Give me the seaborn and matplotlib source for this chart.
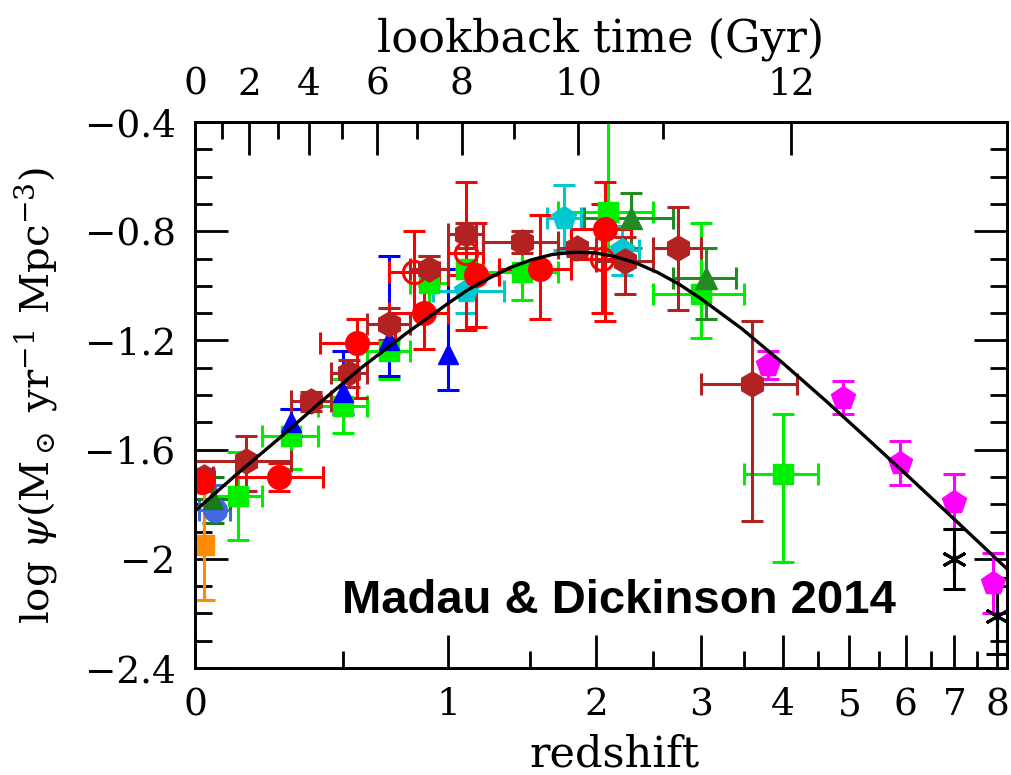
import numpy as np
import matplotlib
matplotlib.use('Agg')
import matplotlib.pyplot as plt
from matplotlib.ticker import FixedLocator
import seaborn as sns

# fitted curve
curve_z = [0, 0.12, 0.26, 0.41, 0.58, 0.78, 1.0, 1.11, 1.24, 1.37, 1.51, 1.66, 1.82,
           1.99, 2.16, 2.35, 2.55, 2.76, 2.98, 3.47, 4.01, 4.62, 5.31, 6.08, 6.94, 7.91, 8.33]
curve_lpsi = [-1.825, -1.691, -1.558, -1.426, -1.298, -1.176, -1.064, -1.015, -0.971, -0.933,
              -0.905, -0.885, -0.877, -0.879, -0.893, -0.917, -0.951, -0.993, -1.043, -1.157,
              -1.285, -1.42, -1.561, -1.703, -1.846, -1.991, -2.049]

# UV points
cuc_z = [0.125, 0.3, 0.5, 0.7, 0.9, 1.1, 1.45, 2.1, 3.0, 4.0]
cuc_zlo = [0.05, 0.2, 0.4, 0.6, 0.8, 1.0, 1.2, 1.7, 2.5, 3.5]
cuc_zhi = [0.2, 0.4, 0.6, 0.8, 1.0, 1.2, 1.7, 2.5, 3.5, 4.5]
cuc_y = [-1.77, -1.55, -1.44, -1.24, -0.99, -0.94, -0.95, -0.73, -1.03, -1.69]
cuc_up = [0.16, 0.10, 0.10, 0.08, 0.10, 0.08, 0.10, 0.40, 0.26, 0.22]
cuc_dn = [0.16, 0.12, 0.10, 0.10, 0.10, 0.08, 0.10, 0.15, 0.16, 0.32]

sch_z = [0.3, 0.5, 0.7, 1.0]
sch_y = [-1.50, -1.39, -1.20, -1.25]
sch_up = [0.05, 0.15, 0.31, 0.31]
sch_dn = [0.05, 0.08, 0.13, 0.13]

wyd_z = [0.055]
wyd_zlo = [0.01]
wyd_zhi = [0.1]
wyd_y = [-1.82]
wyd_up = [0.09]
wyd_dn = [0.02]

rob_z = [0.05]
rob_zlo = [0.0]
rob_zhi = [0.1]
rob_y = [-1.78]
rob_up = [0.08]
rob_dn = [0.09]

red_z = [2.3, 3.05]
red_zlo = [1.9, 2.7]
red_zhi = [2.7, 3.4]
red_y = [-0.75, -0.97]
red_up = [0.09, 0.11]
red_dn = [0.11, 0.15]

dah_z = [1.1, 1.75, 2.22]
dah_zlo = [0.92, 1.62, 2.08]
dah_zhi = [1.33, 1.88, 2.37]
dah_y = [-1.02, -0.75, -0.87]
dah_up = [0.08, 0.12, 0.09]
dah_dn = [0.08, 0.12, 0.09]

bou_z = [3.8, 4.9, 5.9, 7.0, 7.9]
bou_y = [-1.29, -1.41, -1.65, -1.79, -2.09]
bou_err = [0.05, 0.06, 0.08, 0.10, 0.11]

sck_z = [7.0, 8.0]
sck_y = [-2.00, -2.21]
sck_up = [0.11, 0.14]
sck_dn = [0.11, 0.14]

# IR points
tak_z = [0.025]
tak_y = [-1.95]
tak_err = [0.20]

san_z = [0.02]
san_y = [-1.72]
san_up = [0.02]
san_dn = [0.03]

mag_z = [0.26, 0.56, 0.87, 1.16, 1.57, 2.07]
mag_zlo = [0.12, 0.41, 0.7, 1.0, 1.3, 1.8]
mag_zhi = [0.42, 0.73, 1.0, 1.3, 1.8, 2.3]
mag_y = [-1.70, -1.21, -1.10, -0.96, -0.94, -0.79]
mag_up = [0.05, 0.09, 0.16, 0.19, 0.20, 0.17]
mag_dn = [0.05, 0.20, 0.13, 0.19, 0.18, 0.34]

opn_z = [0.82, 1.10, 2.05]
opn_zlo = [0.7, 1.0, 1.8]
opn_zhi = [0.95, 1.2, 2.3]
opn_y = [-0.95, -0.88, -0.90]
opn_up = [0.15, 0.26, 0.20]
opn_dn = [0.15, 0.28, 0.20]

gru_z = [0.025, 0.15, 0.375, 0.525, 0.7, 0.9, 1.1, 1.45, 1.85, 2.25, 2.75, 3.6]
gru_zlo = [0.0, 0.0, 0.3, 0.45, 0.6, 0.8, 1.0, 1.2, 1.7, 2.0, 2.5, 3.0]
gru_zhi = [0.05, 0.3, 0.45, 0.6, 0.8, 1.0, 1.2, 1.7, 2.0, 2.5, 3.0, 4.2]
gru_y = [-1.70, -1.64, -1.42, -1.32, -1.14, -0.94, -0.81, -0.84, -0.86, -0.91, -0.86, -1.36]
gru_up = [0.03, 0.09, 0.03, 0.05, 0.06, 0.05, 0.04, 0.04, 0.02, 0.09, 0.15, 0.23]
gru_dn = [0.03, 0.11, 0.04, 0.05, 0.06, 0.06, 0.05, 0.04, 0.03, 0.12, 0.23, 0.50]

z_ticks = [0, 1, 2, 3, 4, 5, 6, 7, 8]
z_minor = [0.5, 1.5, 2.5, 3.5, 4.5, 5.5, 6.5, 7.5]
t_ticks = [0, 2, 4, 6, 8, 10, 12]
t_minor = [1, 3, 5, 7, 9, 11, 13]
y_ticks = [-2.4, -2.0, -1.6, -1.2, -0.8, -0.4]
y_labels = ['\u22122.4', '\u22122', '\u22121.6', '\u22121.2', '\u22120.8', '\u22120.4']

sns.set_style('ticks')
plt.rcParams['font.family'] = ['DejaVu Serif']
plt.rcParams['mathtext.fontset'] = 'dejavuserif'
for key in ['text.color', 'axes.labelcolor', 'xtick.color', 'ytick.color', 'axes.edgecolor']:
    plt.rcParams[key] = 'black'


def fwd(z):
    return np.log10(np.clip(1 + np.asarray(z, dtype=float), 1e-6, None))


def inv(u):
    return 10 ** np.asarray(u, dtype=float) - 1


# lookback time, flat LCDM, H0=70, Om=0.3
zz = np.linspace(0, 30, 30001)
integ = 1.0 / ((1 + zz) * np.sqrt(0.3 * (1 + zz) ** 3 + 0.7))
tl = np.concatenate([[0], np.cumsum(0.5 * (integ[1:] + integ[:-1]) * np.diff(zz))]) * 977.8 / 70.0


def z_of_t(t):
    return np.interp(t, tl, zz)


fig = plt.figure(figsize=(10.12, 7.75), dpi=100)
ax = fig.add_axes([0.1927, 0.138, 0.8024, 0.7045])
ax.set_xscale('function', functions=(fwd, inv))
xmax = 8.24

kw = dict(capsize=8, elinewidth=2.2, capthick=2.2, linestyle='none')


def draw(z, y, dn, up, zlo=None, zhi=None, **k):
    z = np.array(z)
    xerr = None
    if zlo is not None:
        xerr = [z - np.array(zlo), np.array(zhi) - z]
    ax.errorbar(z, y, yerr=[dn, up], xerr=xerr, **kw, **k)


draw(cuc_z, cuc_y, cuc_dn, cuc_up, cuc_zlo, cuc_zhi, marker='s', ms=14, color='#00ee00')
draw(sch_z, sch_y, sch_dn, sch_up, marker='^', ms=15, color='#0000ff')
draw(wyd_z, wyd_y, wyd_dn, wyd_up, wyd_zlo, wyd_zhi, marker='o', ms=17, color='#4169e1')
draw(rob_z, rob_y, rob_dn, rob_up, rob_zlo, rob_zhi, marker='^', ms=15, color='#1a7a1a')
draw(red_z, red_y, red_dn, red_up, red_zlo, red_zhi, marker='^', ms=16, color='#228b22')
draw(dah_z, dah_y, dah_dn, dah_up, dah_zlo, dah_zhi, marker='p', ms=18, color='#00c8d0')
draw(bou_z, bou_y, bou_err, bou_err, marker='p', ms=18, color='#ff00ff')
draw(sck_z, sck_y, sck_dn, sck_up, marker=(6, 2, 0), ms=18, mew=2.2, color='k')
draw(tak_z, tak_y, tak_err, tak_err, marker='s', ms=14, color='#ff8c00')
draw(gru_z[:1], gru_y[:1], gru_dn[:1], gru_up[:1], gru_zlo[:1], gru_zhi[:1],
     marker='h', ms=18, color='#b22222')
draw(san_z, san_y, san_dn, san_up, marker='o', ms=17, color='#ff0000')
draw(opn_z, opn_y, opn_dn, opn_up, opn_zlo, opn_zhi, marker='o', ms=16, mfc='none',
     mew=2.2, color='#ff0000')
draw(mag_z, mag_y, mag_dn, mag_up, mag_zlo, mag_zhi, marker='o', ms=17, color='#ff0000')
draw(gru_z[1:], gru_y[1:], gru_dn[1:], gru_up[1:], gru_zlo[1:], gru_zhi[1:],
     marker='h', ms=18, color='#b22222')

sns.lineplot(x=curve_z, y=curve_lpsi, sort=False, color='k', lw=2.4, ax=ax, zorder=10)

ax.set_xlim(0, xmax)
ax.set_ylim(-2.4, -0.4)
ax.xaxis.set_major_locator(FixedLocator(z_ticks))
ax.xaxis.set_minor_locator(FixedLocator(z_minor))
ax.set_xticklabels([str(v) for v in z_ticks])
ax.yaxis.set_major_locator(FixedLocator(y_ticks))
ax.yaxis.set_minor_locator(FixedLocator(np.arange(-2.4, -0.35, 0.1)))
ax.set_yticklabels(y_labels)
ax.tick_params(which='both', direction='in', top=False, right=True, width=2,
               labelsize=27, pad=14)
ax.tick_params(which='major', length=24)
ax.tick_params(which='minor', length=12)
for s in ax.spines.values():
    s.set_linewidth(2)

ax.set_xlabel('redshift', fontsize=31)
ax.xaxis.set_label_coords(0.517, -0.12)
ax.set_ylabel(r'log $\psi$(M$_\odot$ yr$^{-1}$ Mpc$^{-3}$)', fontsize=29)
ax.yaxis.set_label_coords(-0.168, 0.5)

ax2 = ax.twiny()
ax2.set_xscale('function', functions=(fwd, inv))
ax2.set_xlim(0, xmax)
ax2.xaxis.set_major_locator(FixedLocator(z_of_t(t_ticks)))
ax2.xaxis.set_minor_locator(FixedLocator(z_of_t(t_minor)))
ax2.set_xticklabels([str(t) for t in t_ticks])
ax2.tick_params(which='both', direction='in', width=2, labelsize=27, pad=14)
ax2.tick_params(which='major', length=24)
ax2.tick_params(which='minor', length=12)
ax2.set_xlabel('lookback time (Gyr)', fontsize=32)
ax2.xaxis.set_label_coords(0.5, 1.13)
for s in ax2.spines.values():
    s.set_linewidth(2)

ax.text(0.181, 0.10, 'Madau & Dickinson 2014', transform=ax.transAxes,
        family='Liberation Sans', weight='bold', fontsize=34, va='baseline', zorder=20)

fig.savefig('out.png', dpi=100)
